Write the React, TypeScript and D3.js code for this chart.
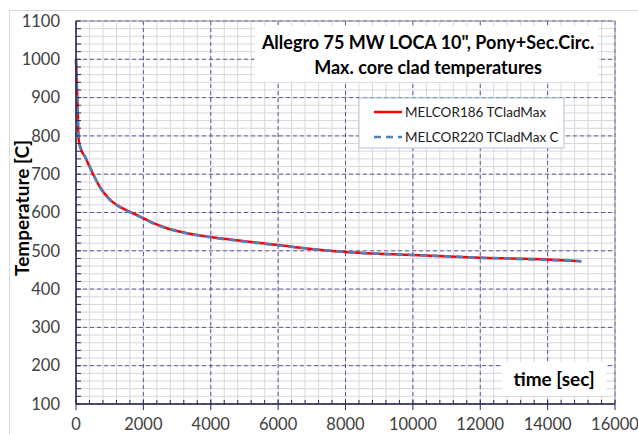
import React, { useRef, useEffect } from "react";
import * as d3 from "d3";

// time [sec]
const times = [0, 20, 50, 70, 100, 170, 270, 400, 520, 700, 1000, 1400, 1700, 2000, 2300, 2700, 3200, 4000, 5000, 6000, 7200, 8000, 10000, 12000, 14000, 15000];
// MELCOR186 TCladMax
const melcor186 = [1000, 945, 870, 800, 780, 760, 745, 720, 698, 668, 634, 610, 598, 585, 572, 559, 548, 536, 525, 515, 503, 497, 489, 482, 477, 473];
// MELCOR220 TCladMax C
const melcor220 = [1000, 940, 865, 805, 782, 763, 746, 722, 699, 667, 633, 609, 597, 584, 571, 558, 547, 535, 524, 514, 503, 497, 489, 482, 476, 473];

const xTicks = [0, 2000, 4000, 6000, 8000, 10000, 12000, 14000, 16000];
const yTicks = [100, 200, 300, 400, 500, 600, 700, 800, 900, 1000, 1100];
const titleLines = ['Allegro 75 MW LOCA 10", Pony+Sec.Circ.', "Max. core clad temperatures"];

const FONT = "Lato, 'Open Sans', sans-serif";

const App: React.FC = () => {
  const svgRef = useRef<SVGSVGElement | null>(null);
  const width = 638;
  const height = 434;

  useEffect(() => {
    const svg = d3.select(svgRef.current);
    svg.selectAll("*").remove();

    const margin = { top: 21, right: 23, bottom: 30, left: 76 };
    const innerWidth = width - margin.left - margin.right;
    const innerHeight = height - margin.top - margin.bottom;

    // outer chart border
    svg.append("rect")
      .attr("x", 9.5).attr("y", 10.5)
      .attr("width", width).attr("height", height)
      .attr("fill", "#fff").attr("stroke", "#d9d9d9");

    const g = svg.append("g").attr("transform", `translate(${margin.left},${margin.top})`);

    const x = d3.scaleLinear().domain([0, 16000]).range([0, innerWidth]);
    const y = d3.scaleLinear().domain([100, 1100]).range([innerHeight, 0]);

    // minor grid
    const minorX = d3.range(0, 16001, 400);
    const minorY = d3.range(100, 1101, 20);
    g.append("g").selectAll("line").data(minorX).enter().append("line")
      .attr("x1", (d) => x(d)).attr("x2", (d) => x(d))
      .attr("y1", 0).attr("y2", innerHeight)
      .attr("stroke", "#d6d6dd").attr("stroke-width", 1);
    g.append("g").selectAll("line").data(minorY).enter().append("line")
      .attr("x1", 0).attr("x2", innerWidth)
      .attr("y1", (d) => y(d)).attr("y2", (d) => y(d))
      .attr("stroke", "#d6d6dd").attr("stroke-width", 1);

    // major grid (dashed)
    g.append("g").selectAll("line").data(xTicks).enter().append("line")
      .attr("x1", (d) => x(d)).attr("x2", (d) => x(d))
      .attr("y1", 0).attr("y2", innerHeight)
      .attr("stroke", "#5a5a9a").attr("stroke-width", 1)
      .attr("stroke-dasharray", "4,3");
    g.append("g").selectAll("line").data(yTicks).enter().append("line")
      .attr("x1", 0).attr("x2", innerWidth)
      .attr("y1", (d) => y(d)).attr("y2", (d) => y(d))
      .attr("stroke", "#5a5a9a").attr("stroke-width", 1)
      .attr("stroke-dasharray", "4,3");

    // plot border (right/top)
    g.append("rect")
      .attr("width", innerWidth).attr("height", innerHeight)
      .attr("fill", "none").attr("stroke", "#9a9aaa").attr("stroke-width", 1);

    // title box
    const title = g.append("g");
    title.append("rect")
      .attr("x", x(5300)).attr("y", 5)
      .attr("width", x(15500) - x(5300)).attr("height", 56)
      .attr("fill", "#fff");
    titleLines.forEach((t, i) => {
      title.append("text")
        .attr("x", x(10450)).attr("y", 28 + i * 25)
        .attr("text-anchor", "middle")
        .style("font-family", FONT).style("font-size", "18px").style("font-weight", "bold")
        .attr("fill", "#000")
        .text(t);
    });

    // series
    const line = d3.line<number>()
      .x((_, i) => x(times[i]))
      .y((d) => y(d))
      .curve(d3.curveMonotoneX);

    g.append("path")
      .datum(melcor186)
      .attr("fill", "none").attr("stroke", "#ff0000").attr("stroke-width", 2.5)
      .attr("d", line);
    g.append("path")
      .datum(melcor220)
      .attr("fill", "none").attr("stroke", "#4f81bd").attr("stroke-width", 2.5)
      .attr("stroke-dasharray", "7,5")
      .attr("d", line);

    // axes lines + ticks
    const axisColor = "#2a2a5a";
    g.append("line").attr("x1", 0).attr("x2", 0).attr("y1", 0).attr("y2", innerHeight)
      .attr("stroke", axisColor).attr("stroke-width", 1.5);
    g.append("line").attr("x1", 0).attr("x2", innerWidth).attr("y1", innerHeight).attr("y2", innerHeight)
      .attr("stroke", axisColor).attr("stroke-width", 1.5);
    g.append("g").selectAll("line").data(minorY).enter().append("line")
      .attr("x1", 0).attr("x2", 5)
      .attr("y1", (d) => y(d)).attr("y2", (d) => y(d))
      .attr("stroke", axisColor).attr("stroke-width", 1);
    g.append("g").selectAll("line").data(minorX).enter().append("line")
      .attr("x1", (d) => x(d)).attr("x2", (d) => x(d))
      .attr("y1", innerHeight - 4).attr("y2", innerHeight)
      .attr("stroke", axisColor).attr("stroke-width", 1);
    g.append("g").selectAll("line").data(xTicks).enter().append("line")
      .attr("x1", (d) => x(d)).attr("x2", (d) => x(d))
      .attr("y1", innerHeight).attr("y2", innerHeight + 6)
      .attr("stroke", axisColor).attr("stroke-width", 1);

    // tick labels
    g.append("g").selectAll("text").data(yTicks).enter().append("text")
      .attr("x", -16).attr("y", (d) => y(d)).attr("dy", "0.35em")
      .attr("text-anchor", "end")
      .style("font-family", FONT).style("font-size", "16.5px")
      .attr("fill", "#404040")
      .text((d) => d);
    g.append("g").selectAll("text").data(xTicks).enter().append("text")
      .attr("x", (d) => x(d)).attr("y", innerHeight + 26)
      .attr("text-anchor", "middle")
      .style("font-family", FONT).style("font-size", "16.5px")
      .attr("fill", "#404040")
      .text((d) => d);

    // legend
    const legend = g.append("g").attr("transform", `translate(${x(8400)},${77})`);
    legend.append("rect")
      .attr("width", 205).attr("height", 50)
      .attr("fill", "#fff").attr("stroke", "#b8c4d8");
    const items = [
      { label: "MELCOR186 TCladMax", color: "#ff0000", dash: null },
      { label: "MELCOR220 TCladMax C", color: "#4f81bd", dash: "7,5" },
    ];
    items.forEach((it, i) => {
      const row = legend.append("g").attr("transform", `translate(15,${14 + i * 25})`);
      row.append("line").attr("x1", 0).attr("x2", 28)
        .attr("stroke", it.color).attr("stroke-width", 2.5)
        .attr("stroke-dasharray", it.dash);
      row.append("text").attr("x", 31).attr("dy", "0.35em")
        .style("font-family", FONT).style("font-size", "13.5px")
        .attr("fill", "#222")
        .text(it.label);
    });

    // x-axis label box
    const xl = g.append("g");
    xl.append("rect")
      .attr("x", x(12650)).attr("y", 341)
      .attr("width", 104).attr("height", 34).attr("fill", "#fff");
    xl.append("text")
      .attr("x", x(12650) + 52).attr("y", 365)
      .attr("text-anchor", "middle")
      .style("font-family", FONT).style("font-size", "19px").style("font-weight", "bold")
      .attr("fill", "#000")
      .text("time [sec]");

    // y-axis label
    svg.append("text")
      .attr("transform", `translate(29,208) rotate(-90)`)
      .attr("text-anchor", "middle")
      .style("font-family", FONT).style("font-size", "19px").style("font-weight", "bold")
      .attr("fill", "#000")
      .text("Temperature [C]");
  }, []);

  return (
    <div style={{ position: "absolute", left: 0, top: 0, width, height, background: "#fff" }}>
      <svg ref={svgRef} width={width} height={height}></svg>
    </div>
  );
};

export default App;
